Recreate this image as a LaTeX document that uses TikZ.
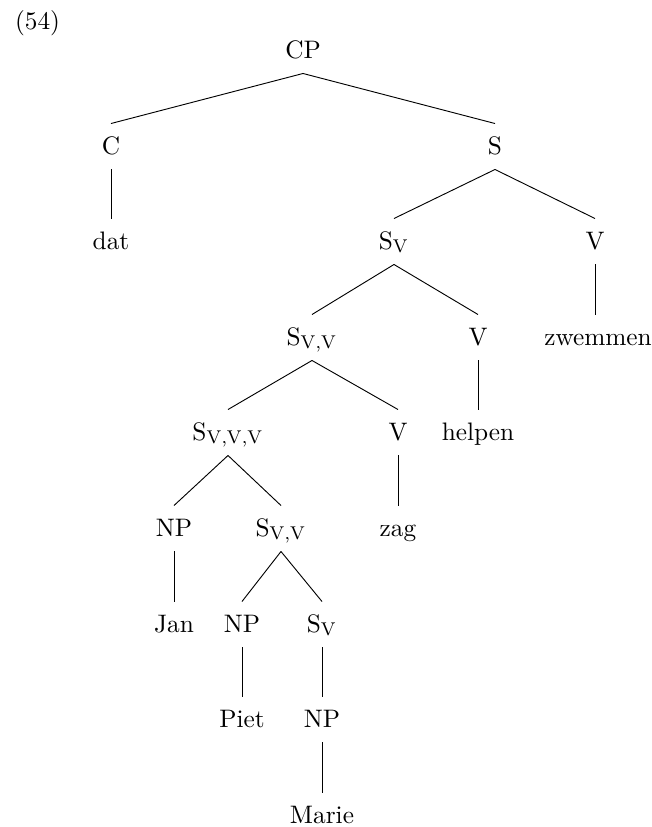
\documentclass[tikz,border=0pt]{standalone}
\begin{document}
\begin{tikzpicture}[
        x=0.4329pt, y=-0.4329pt,
        every node/.style={anchor=base, font=\fontsize{10.95}{13.6}\selectfont, text height=8pt, text depth=1.5pt, inner xsep=2pt, inner ysep=5pt}
    ]
        \useasboundingbox (0,0) rectangle (652,827);
        \node[anchor=base west] (num) at (10,29) {(54)};

        % Nodos por niveles (x, línea base)
        \node (cp) at (303,58) {CP};
        \node (c) at (111,154) {C};
        \node (s) at (495,154) {S};
        \node (dat) at (111,249) {dat};
        \node (sv) at (394,249) {S$_{\mathrm{V}}$};
        \node (v1) at (595,249) {V};
        \node (svv) at (312,345) {S$_{\mathrm{V,V}}$};
        \node (v2) at (478,345) {V};
        \node (zwemmen) at (598,345) {zwemmen};
        \node (svvv) at (228,440) {S$_{\mathrm{V,V,V}}$};
        \node (v3) at (398,440) {V};
        \node (helpen) at (478,440) {helpen};
        \node (np1) at (174,536) {NP};
        \node (svv2) at (281,536) {S$_{\mathrm{V,V}}$};
        \node (zag) at (398,536) {zag};
        \node (jan) at (174,632) {Jan};
        \node (np2) at (242,632) {NP};
        \node (sv2) at (322,632) {S$_{\mathrm{V}}$};
        \node (piet) at (242,727) {Piet};
        \node (np3) at (322,727) {NP};
        \node (marie) at (322,823) {Marie};

        % Ramas del árbol
        \draw (cp.south) -- (c.north);
        \draw (cp.south) -- (s.north);
        \draw (c.south) -- (dat.north);
        \draw (s.south) -- (sv.north);
        \draw (s.south) -- (v1.north);
        \draw (v1.south) -- (zwemmen.north -| v1);
        \draw (sv.south) -- (svv.north);
        \draw (sv.south) -- (v2.north);
        \draw (v2.south) -- (helpen.north);
        \draw (svv.south) -- (svvv.north);
        \draw (svv.south) -- (v3.north);
        \draw (v3.south) -- (zag.north);
        \draw (svvv.south) -- (np1.north);
        \draw (svvv.south) -- (svv2.north);
        \draw (np1.south) -- (jan.north);
        \draw (svv2.south) -- (np2.north);
        \draw (svv2.south) -- (sv2.north);
        \draw (np2.south) -- (piet.north);
        \draw (sv2.south) -- (np3.north);
        \draw (np3.south) -- (marie.north);
\end{tikzpicture}
\end{document}
